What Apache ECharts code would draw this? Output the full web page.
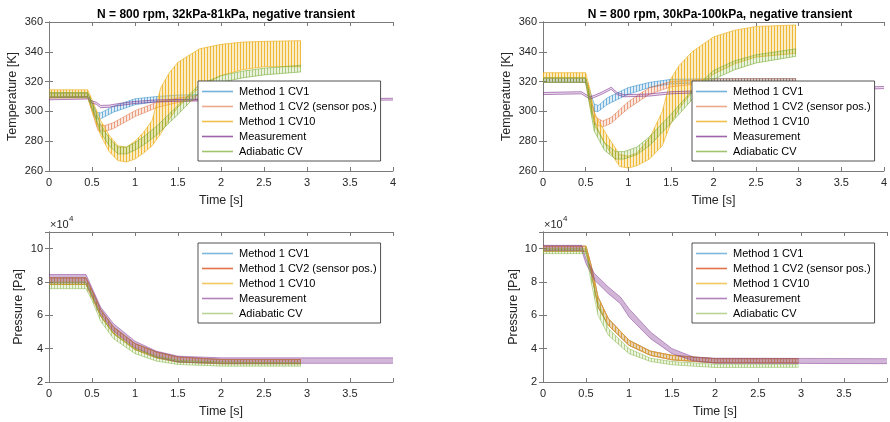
<!DOCTYPE html>
<html><head><meta charset="utf-8">
<script src="https://cdn.jsdelivr.net/npm/echarts@6/dist/echarts.min.js"></script>
<style>html,body{margin:0;padding:0;background:#fff}#c{width:890px;height:422px}</style>
</head><body><div id="c"></div>
<script>
// ---------- data ----------
const seriesNames = ['Method 1 CV1', 'Method 1 CV2 (sensor pos.)', 'Method 1 CV10', 'Measurement', 'Adiabatic CV'];
const titles = ['N = 800 rpm, 32kPa-81kPa, negative transient', 'N = 800 rpm, 30kPa-100kPa, negative transient'];
const timeTicksTop = [0, 0.5, 1, 1.5, 2, 2.5, 3, 3.5, 4];
const timeTicksBottom = [0, 0.5, 1, 1.5, 2, 2.5, 3, 3.5];
const tempTicks = [260, 280, 300, 320, 340, 360];
const pressTicks = [2, 4, 6, 8, 10]; // x 10^4 Pa

// each point: [time s, lower envelope, upper envelope] of the oscillating signal
// top-left: temperature [K], 32kPa-81kPa
const tl_cv1 = [[0,310,312.5],[0.45,310,312.5],[0.5,302,306],[0.55,295,299.5],[0.6,295,299],[0.75,299.5,303.5],[1.0,304.5,308.5],[1.25,306.5,310],[1.5,307.5,311],[2.0,308,311.5],[2.93,308,311.5]];
const tl_cv2 = [[0,310,312.5],[0.45,310,312.5],[0.5,300,305],[0.57,287,291],[0.65,286.5,290.5],[0.75,288.5,292.5],[1.0,296.5,300.5],[1.25,302.5,306],[1.5,306,309],[1.75,308,311],[2.0,308.5,311.5],[2.93,308.5,311.5]];
const tl_cv10 = [[0,309,314.5],[0.45,309,314.5],[0.5,300,308],[0.6,284,294],[0.7,273,284],[0.8,267,277],[0.9,266,276],[1.0,268,280],[1.1,272,286],[1.2,277,294],[1.3,285,316],[1.4,295,326],[1.5,303,333],[1.75,316,342],[2.0,324,345],[2.25,328,346.5],[2.5,330,347],[2.93,330,347.5]];
const tl_meas = [[0,307.8,309.2],[0.45,308.3,309.7],[0.5,305.5,307],[0.55,304.8,306.2],[0.6,302.5,304],[0.7,302.8,304.2],[0.8,303.8,305.2],[1.0,305.3,306.7],[1.25,306.3,307.7],[1.5,306.8,308],[2.0,307.2,308.4],[3.0,307.2,308.4],[4.0,307.6,308.8]];
const tl_adia = [[0,309.5,312.5],[0.45,309.5,312.5],[0.5,302,306],[0.6,286,291],[0.7,277,282],[0.8,271.5,276],[0.9,271.5,276],[1.0,274,279],[1.1,277.5,283],[1.25,284,290],[1.5,298,304],[1.75,313,318],[2.0,319.5,324],[2.25,322.5,327],[2.5,324.5,329],[2.93,326.5,331]];
// top-right: temperature [K], 30kPa-100kPa
const tr_cv1 = [[0,319.5,322.5],[0.5,319.5,322.5],[0.55,308,314],[0.6,300,305],[0.65,300,304],[0.75,304.5,309],[1.0,311.5,316],[1.25,316,319.5],[1.5,318.5,321.5],[2.0,319.5,322],[2.97,319.5,322]];
const tr_cv2 = [[0,319.5,322.5],[0.5,319.5,322.5],[0.55,305,311],[0.62,291,296],[0.7,289.5,293.5],[0.8,292,296],[1.0,302,306.5],[1.25,311.5,316],[1.5,316.5,320],[2.0,319.5,322],[2.97,319.5,322]];
const tr_cv10 = [[0,322.5,326],[0.5,322.5,326],[0.55,305,315],[0.6,291,299],[0.75,276,284],[0.9,263,271],[1.0,262,270],[1.1,263.5,272],[1.25,268,282],[1.4,277,300],[1.5,292,322],[1.6,302,331],[1.75,313,340],[2.0,325,350],[2.25,332,354.5],[2.5,336.5,357],[2.97,339,358]];
const tr_meas = [[0,311.3,312.7],[0.45,311.8,313.2],[0.55,308.3,309.7],[0.62,309.8,311.2],[0.7,311.8,313.2],[0.8,314.8,316.2],[0.87,311.3,312.7],[0.95,309.8,311.2],[1.25,310.3,311.7],[1.5,311.8,313.2],[2.0,312.8,314.2],[3.0,313.8,315.2],[4.0,315.3,316.7]];
const tr_adia = [[0,319.5,322.5],[0.5,319.5,322.5],[0.55,303,310],[0.6,287,293],[0.72,274,279],[0.85,268,273],[0.95,268,273],[1.1,271,276],[1.25,277,283],[1.5,292,298],[1.75,308,314],[2.0,321.5,327.5],[2.25,328,334],[2.5,332.5,338],[2.97,337,342]];
// bottom-left: pressure [x10^4 Pa], 32kPa-81kPa (CV1, CV2, CV10 overlap)
const bl_cv = [[0,7.85,8.25],[0.43,7.85,8.25],[0.5,7.1,7.5],[0.6,5.95,6.35],[0.75,4.9,5.3],[1.0,3.95,4.3],[1.25,3.45,3.8],[1.5,3.2,3.5],[2.0,3.1,3.35],[2.93,3.1,3.35]];
const bl_meas = [[0,7.95,8.45],[0.43,7.95,8.45],[0.5,7.2,7.65],[0.6,6.1,6.5],[0.75,5.05,5.5],[1.0,4.05,4.45],[1.25,3.5,3.85],[1.5,3.2,3.55],[2.0,3.12,3.45],[4.0,3.12,3.45]];
const bl_adia = [[0,7.6,8.0],[0.43,7.6,8.0],[0.5,6.9,7.3],[0.6,5.65,6.0],[0.75,4.6,4.95],[1.0,3.7,4.0],[1.25,3.25,3.55],[1.5,3.05,3.3],[2.0,2.95,3.2],[2.93,2.95,3.15]];
// bottom-right: pressure [x10^4 Pa], 30kPa-100kPa (CV1, CV2, CV10 overlap)
const br_cv = [[0,9.85,10.15],[0.5,9.85,10.15],[0.56,8.6,9.0],[0.64,6.5,7.1],[0.76,5.4,5.8],[1.0,4.2,4.5],[1.25,3.6,3.85],[1.5,3.33,3.6],[2.0,3.15,3.4],[2.97,3.15,3.4]];
const br_meas = [[0,9.9,10.2],[0.45,9.9,10.2],[0.5,9.1,9.4],[0.6,8.1,8.5],[0.76,7.3,7.7],[0.9,6.7,7.1],[1.0,5.9,6.4],[1.25,4.6,5.0],[1.5,3.7,4.0],[1.75,3.27,3.5],[2.0,3.13,3.43],[4.0,3.1,3.4]];
const br_adia = [[0,9.7,10.0],[0.5,9.7,10.0],[0.56,8.0,8.4],[0.64,6.0,6.8],[0.76,4.8,5.2],[1.0,3.7,4.0],[1.25,3.23,3.43],[1.5,3.03,3.23],[2.0,2.87,3.07],[2.97,2.88,3.05]];

// ---------- presentation ----------
const FONT = '"Liberation Sans", Arial, Helvetica, sans-serif';
const AX = '#262626';
const FRAME = '#7a7a7a';
const COLORS = ['#0072BD', '#D95319', '#EDB120', '#7E2F8E', '#77AC30'];

const panels = [
  { grid: {left: 49, top: 22, width: 344, height: 149}, xt: timeTicksTop, yt: tempTicks, ymax: 360,
    yname: 'Temperature [K]', ygap: 30, data: [tl_cv1, tl_cv2, tl_cv10, tl_meas, tl_adia],
    lineOp: [0.5, 0.5, 0.8, 0.85, 0.7], fillOp: [0.3, 0.3, 0.55, 0.15, 0.35], legendOp: [0.55, 0.5, 0.8, 0.75, 0.7],
    legend: {left: 198, top: 81} },
  { grid: {left: 543, top: 22, width: 344, height: 149}, xt: timeTicksTop, yt: tempTicks, ymax: 360,
    yname: 'Temperature [K]', ygap: 30, data: [tr_cv1, tr_cv2, tr_cv10, tr_meas, tr_adia],
    lineOp: [0.5, 0.5, 0.8, 0.85, 0.7], fillOp: [0.3, 0.3, 0.55, 0.15, 0.35], legendOp: [0.55, 0.5, 0.8, 0.75, 0.7],
    legend: {left: 692, top: 81} },
  { grid: {left: 49, top: 232, width: 344, height: 150}, xt: timeTicksBottom, yt: pressTicks, ymax: 11,
    yname: 'Pressure [Pa]', ygap: 24, data: [bl_cv, bl_cv, bl_cv, bl_meas, bl_adia],
    lineOp: [0.5, 0.8, 0.7, 0.65, 0.55], fillOp: [0.2, 0.3, 0.35, 0.35, 0.3], legendOp: [0.5, 0.8, 0.7, 0.6, 0.5],
    legend: {left: 198, top: 243} },
  { grid: {left: 543, top: 232, width: 344, height: 150}, xt: timeTicksBottom, yt: pressTicks, ymax: 11,
    yname: 'Pressure [Pa]', ygap: 23, data: [br_cv, br_cv, br_cv, br_meas, br_adia],
    lineOp: [0.5, 0.8, 0.7, 0.65, 0.55], fillOp: [0.2, 0.3, 0.35, 0.35, 0.3], legendOp: [0.5, 0.8, 0.7, 0.6, 0.5],
    legend: {left: 692, top: 243} }
];

function hexA(hex, a) {
  const n = parseInt(hex.slice(1), 16);
  return `rgba(${n >> 16},${(n >> 8) & 255},${n & 255},${a})`;
}
function tickFmt(list) {
  return v => list.some(t => Math.abs(t - v) < 1e-9) ? String(v) : '';
}
// vertical stripe texture imitating the dense cycle-to-cycle oscillation
function stripes(hex, a) {
  const c = document.createElement('canvas');
  c.width = 3; c.height = 4;
  const g = c.getContext('2d');
  g.fillStyle = hexA(hex, a * 0.45);
  g.fillRect(0, 0, 3, 4);
  g.fillStyle = hexA(hex, Math.min(1, a * 1.6));
  g.fillRect(0, 0, 1, 4);
  return {image: c, repeat: 'repeat'};
}

const grids = [], xAxes = [], yAxes = [], series = [], legends = [];
panels.forEach((p, gi) => {
  grids.push(Object.assign({containLabel: false}, p.grid));
  const xint = p.xt[1] - p.xt[0], yint = p.yt[1] - p.yt[0];
  const common = {gridIndex: gi, type: 'value', splitLine: {show: false},
    axisLine: {show: true, lineStyle: {color: FRAME, width: 1}},
    axisTick: {show: true, inside: true, length: 4, lineStyle: {color: FRAME, width: 1}}};
  xAxes[gi] = Object.assign({}, common, {position: 'bottom', min: 0, max: 4, interval: xint,
    axisLabel: {color: AX, fontSize: 11, fontFamily: FONT, margin: 6, formatter: tickFmt(p.xt)},
    name: 'Time [s]', nameLocation: 'middle', nameGap: 23,
    nameTextStyle: {color: AX, fontSize: 12.5, fontFamily: FONT}});
  xAxes[gi + 4] = Object.assign({}, common, {position: 'top', min: 0, max: 4, interval: xint,
    axisLabel: {show: false}});
  yAxes[gi] = Object.assign({}, common, {position: 'left', min: p.yt[0], max: p.ymax, interval: yint,
    axisLabel: {color: AX, fontSize: 11, fontFamily: FONT, margin: 6, formatter: tickFmt(p.yt)},
    name: p.yname, nameLocation: 'middle', nameGap: p.ygap, nameRotate: 90,
    nameTextStyle: {color: AX, fontSize: 12.5, fontFamily: FONT}});
  yAxes[gi + 4] = Object.assign({}, common, {position: 'right', min: p.yt[0], max: p.ymax, interval: yint,
    axisLabel: {show: false}});

  const legendItems = [];
  p.data.forEach((pts, si) => {
    const col = COLORS[si];
    const nm = seriesNames[si] + '#' + gi;
    legendItems.push({name: nm, icon: 'path://M0,0H31V1.6H0Z', itemStyle: {color: hexA(col, p.legendOp[si])}});
    const z = 2 + si;
    const fill = si === 3 ? hexA(col, p.fillOp[si]) : stripes(col, p.fillOp[si]);
    series.push({
      type: 'custom', name: 'band' + gi + '_' + si, xAxisIndex: gi, yAxisIndex: gi, silent: true, z: z,
      data: [[pts[0][0], pts[0][1]]], encode: {x: 0, y: 1},
      renderItem: (params, api) => {
        const up = pts.map(q => api.coord([q[0], q[2]]));
        const lo = pts.map(q => api.coord([q[0], q[1]])).reverse();
        return {type: 'polygon', shape: {points: up.concat(lo)}, style: {fill: fill, stroke: null}};
      }
    });
    const lw = si === 3 ? 0.7 : 0.8;
    series.push({
      type: 'line', name: nm, xAxisIndex: gi, yAxisIndex: gi, z: z, symbol: 'none', silent: true,
      data: pts.map(q => [q[0], q[1]]), itemStyle: {color: hexA(col, p.lineOp[si])},
      lineStyle: {color: hexA(col, p.lineOp[si]), width: lw}
    });
    series.push({
      type: 'line', name: nm + 'u', xAxisIndex: gi, yAxisIndex: gi, z: z, symbol: 'none', silent: true,
      data: pts.map(q => [q[0], q[2]]), itemStyle: {color: hexA(col, p.lineOp[si])},
      lineStyle: {color: hexA(col, p.lineOp[si]), width: lw}
    });
  });
  legends.push({
    data: legendItems, orient: 'vertical', left: p.legend.left, top: p.legend.top,
    itemWidth: 31, itemHeight: 10, itemGap: 4, padding: [5, 4, 4, 4], symbolKeepAspect: true,
    backgroundColor: '#fff', borderColor: '#262626', borderWidth: 0.8, selectedMode: false,
    formatter: n => n.split('#')[0], z: 20,
    textStyle: {color: '#000', fontSize: 11, fontFamily: FONT, padding: [0, 0, 0, 1]}
  });
});

const option = {
  animation: false,
  backgroundColor: '#fff',
  title: [
    {text: titles[0], left: 221, top: 4, textAlign: 'center', textStyle: {fontSize: 12, fontWeight: 'bold', color: '#000', fontFamily: FONT}},
    {text: titles[1], left: 715, top: 4, textAlign: 'center', textStyle: {fontSize: 12, fontWeight: 'bold', color: '#000', fontFamily: FONT}}
  ],
  grid: grids, xAxis: xAxes, yAxis: yAxes, series: series, legend: legends,
  graphic: [
    {type: 'text', left: 50, top: 219, style: {text: '\u00d710', fontSize: 11, fontFamily: FONT, fill: AX}},
    {type: 'text', left: 69, top: 215, style: {text: '4', fontSize: 8, fontFamily: FONT, fill: AX}},
    {type: 'text', left: 544, top: 219, style: {text: '\u00d710', fontSize: 11, fontFamily: FONT, fill: AX}},
    {type: 'text', left: 563, top: 215, style: {text: '4', fontSize: 8, fontFamily: FONT, fill: AX}}
  ]
};
const chart = echarts.init(document.getElementById('c'), null, {renderer: 'canvas'});
chart.setOption(option);
</script>
</body></html>
